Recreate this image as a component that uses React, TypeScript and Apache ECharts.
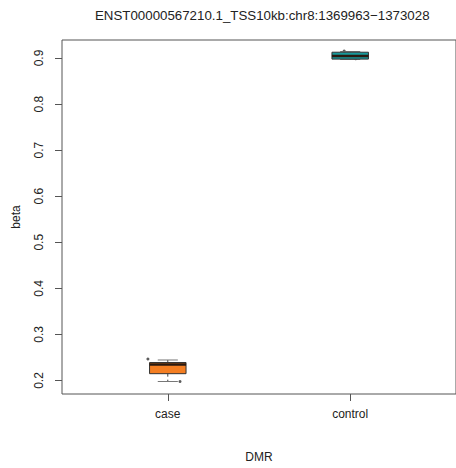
import React, { useEffect, useRef } from "react";
import * as echarts from "echarts";

const TITLE = "ENST00000567210.1_TSS10kb:chr8:1369963\u22121373028";
const categories = ["case", "control"];
// [low whisker, Q1, median, Q3, high whisker]
const boxStats = [
  [0.1978, 0.2148, 0.2347, 0.239, 0.2445],
  [0.897, 0.8975, 0.9045, 0.9125, 0.914],
];
const boxColors = ["#F47E22", "#17999A"];
// visible jittered points: [category position, beta]
const points = [
  [0.891, 0.2467],
  [1.067, 0.1978],
  [1.967, 0.9152],
  [2.03, 0.8985],
];
const yTicks = [0.2, 0.3, 0.4, 0.5, 0.6, 0.7, 0.8, 0.9];
const xTicks = [1, 2];

const FONT = "Liberation Sans, Arial, Helvetica, sans-serif";
const TEXT = "#222";
const LINE = "#555";

export default function App() {
  const ref = useRef<HTMLDivElement>(null);
  useEffect(() => {
    document.body.style.margin = "0";
    if (!ref.current) return;
    const chart = echarts.init(ref.current, undefined, { renderer: "svg" });
    const boxData = boxStats.map((s, i) => [i + 1, ...s]);
    chart.setOption({
      animation: false,
      backgroundColor: "#fff",
      textStyle: { fontFamily: FONT },
      title: {
        text: TITLE,
        left: 90,
        top: 4,
        textStyle: { fontFamily: FONT, fontSize: 13.3, fontWeight: "normal", color: TEXT },
      },
      grid: {
        left: 62,
        top: 40,
        bottom: 74,
        right: -3,
        show: true,
        borderColor: LINE,
        borderWidth: 1,
        backgroundColor: "transparent",
      },
      xAxis: {
        type: "value",
        min: 0.42,
        max: 2.58,
        name: "DMR",
        nameLocation: "middle",
        nameGap: 57,
        nameTextStyle: { fontFamily: FONT, fontSize: 12, color: TEXT },
        axisLine: { show: false },
        splitLine: { show: false },
        axisTick: {
          show: true,
          length: 7,
          customValues: xTicks,
          lineStyle: { color: LINE },
        },
        axisLabel: {
          customValues: xTicks,
          margin: 14,
          fontSize: 12,
          color: TEXT,
          fontFamily: FONT,
          formatter: (v: number) => categories[Math.round(v) - 1] ?? "",
        },
      },
      yAxis: {
        type: "value",
        min: 0.1707,
        max: 0.939,
        name: "beta",
        nameLocation: "middle",
        nameGap: 40,
        nameTextStyle: { fontFamily: FONT, fontSize: 12, color: TEXT },
        axisLine: { show: false },
        splitLine: { show: false },
        axisTick: {
          show: true,
          length: 7,
          customValues: yTicks,
          lineStyle: { color: LINE },
        },
        axisLabel: {
          customValues: yTicks,
          rotate: 90,
          margin: 17,
          fontSize: 12,
          color: TEXT,
          fontFamily: FONT,
          formatter: (v: number) => v.toFixed(1),
        },
      },
      series: [
        {
          type: "scatter",
          data: points,
          symbolSize: 3,
          itemStyle: { color: "#333" },
          z: 1,
        },
        {
          type: "custom",
          z: 2,
          data: boxData,
          encode: { x: 0, y: [1, 2, 3, 4, 5] },
          renderItem: (params: any, api: any) => {
            const x = api.value(0);
            const lo = api.coord([x, api.value(1)]);
            const q1 = api.coord([x, api.value(2)]);
            const med = api.coord([x, api.value(3)]);
            const q3 = api.coord([x, api.value(4)]);
            const hi = api.coord([x, api.value(5)]);
            const half = api.size([0.2, 0])[0] / 2;
            const staple = half * 0.55;
            const cx = lo[0];
            const color = boxColors[params.dataIndex];
            return {
              type: "group",
              children: [
                {
                  type: "line",
                  shape: { x1: cx, y1: hi[1], x2: cx, y2: q3[1] },
                  style: { stroke: "#444", lineWidth: 1, lineDash: [3, 3] },
                },
                {
                  type: "line",
                  shape: { x1: cx, y1: q1[1], x2: cx, y2: lo[1] },
                  style: { stroke: "#444", lineWidth: 1, lineDash: [3, 3] },
                },
                {
                  type: "line",
                  shape: { x1: cx - staple, y1: hi[1], x2: cx + staple, y2: hi[1] },
                  style: { stroke: "#777", lineWidth: 1 },
                },
                {
                  type: "line",
                  shape: { x1: cx - staple, y1: lo[1], x2: cx + staple, y2: lo[1] },
                  style: { stroke: "#777", lineWidth: 1 },
                },
                {
                  type: "rect",
                  shape: { x: cx - half, y: q3[1], width: half * 2, height: q1[1] - q3[1] },
                  style: { fill: color, stroke: "#333", lineWidth: 1 },
                },
                {
                  type: "line",
                  shape: { x1: cx - half, y1: med[1], x2: cx + half, y2: med[1] },
                  style: { stroke: "#2a1a10", lineWidth: 2.5 },
                },
              ],
            };
          },
        },
      ],
    });
    return () => chart.dispose();
  }, []);
  return <div ref={ref} style={{ width: 456, height: 468 }} />;
}
